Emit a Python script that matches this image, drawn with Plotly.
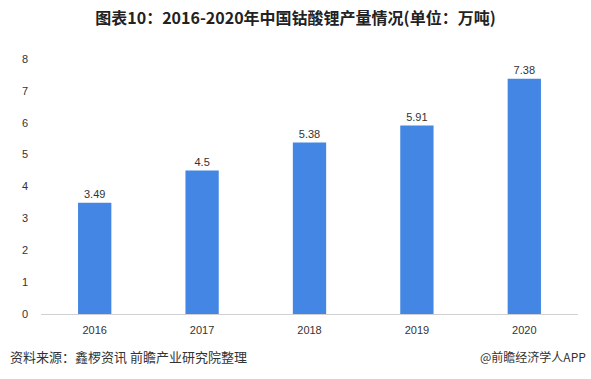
import plotly.graph_objects as go

years = ["2016", "2017", "2018", "2019", "2020"]
values = [3.49, 4.5, 5.38, 5.91, 7.38]
value_labels = ["3.49", "4.5", "5.38", "5.91", "7.38"]
y_ticks = [0, 1, 2, 3, 4, 5, 6, 7, 8]

font_cjk = "Noto Sans CJK SC, Microsoft YaHei, sans-serif"

fig = go.Figure(go.Bar(
    x=years, y=values, text=value_labels, textposition="outside",
    textfont=dict(size=11, color="#333333", family="Liberation Sans, Arial"),
    marker=dict(color="#4386E3", line=dict(width=0)),
    cliponaxis=False,
))

fig.update_layout(
    width=591, height=379,
    margin=dict(l=41, r=13, t=59, b=65),
    paper_bgcolor="white", plot_bgcolor="white",
    bargap=0.69,
    showlegend=False,
    title=dict(text="<b>图表10：2016-2020年中国钴酸锂产量情况(单位：万吨)</b>",
               x=0.5, xanchor="center", y=1 - 18 / 379, yanchor="middle",
               font=dict(size=16, color="#222222", family=font_cjk)),
    xaxis=dict(showline=True, linecolor="#D0D0D0", linewidth=1, ticks="",
               ticklabelstandoff=6,
               tickfont=dict(size=11, color="#333333", family="Liberation Sans, Arial"),
               showgrid=False),
    yaxis=dict(range=[0, 8], tickvals=y_ticks, showgrid=False, zeroline=False,
               showline=False, ticks="", ticklabelstandoff=12,
               tickfont=dict(size=11, color="#333333", family="Liberation Sans, Arial")),
    annotations=[
        dict(text="资料来源：鑫椤资讯 前瞻产业研究院整理", x=8, y=356, xref="paper", yref="paper",
             showarrow=False, xanchor="left", yanchor="middle",
             font=dict(size=13, color="#333333", family=font_cjk)),
        dict(text="@前瞻经济学人APP", x=588, y=356, xref="paper", yref="paper",
             showarrow=False, xanchor="right", yanchor="middle",
             font=dict(size=12, color="#333333", family=font_cjk)),
    ],
)

# convert pixel positions of annotations to paper coords
pw = 591 - 41 - 13
ph = 379 - 59 - 65
for a in fig.layout.annotations:
    a.x = (a.x - 41) / pw
    a.y = (379 - 65 - a.y) / ph

fig.write_html("out.html", config={"displayModeBar": False},
               post_script="document.body.style.margin='0';")
